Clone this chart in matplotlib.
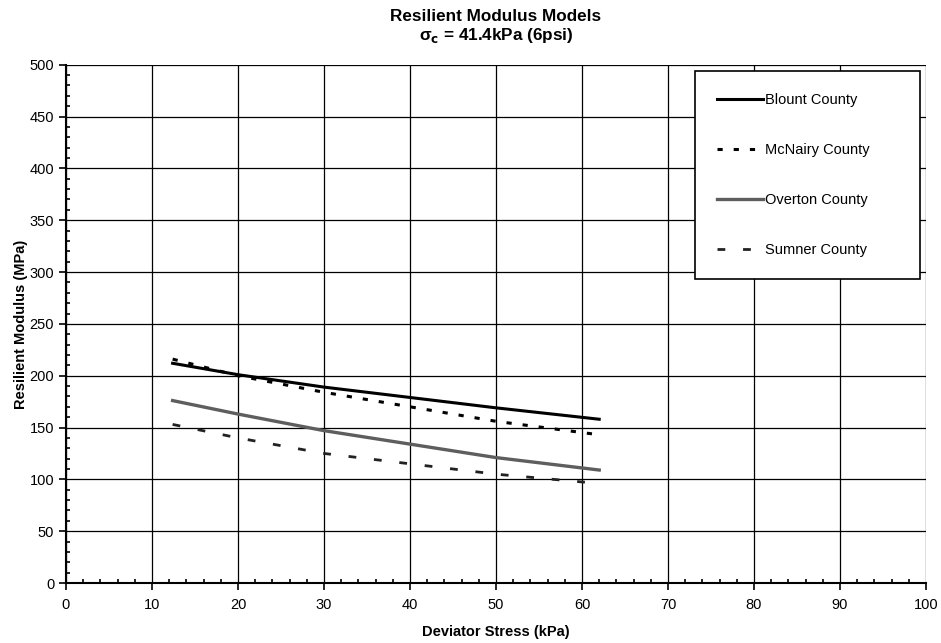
import matplotlib
matplotlib.use('Agg')
import matplotlib.pyplot as plt
from matplotlib.ticker import MultipleLocator

plt.rcParams['font.family'] = ['Liberation Sans', 'DejaVu Sans']

# deviator stress (kPa)
stress = [12.4, 20, 30, 40, 50, 62]

# resilient modulus (MPa)
blount = [212, 201, 189, 179, 169, 158]
mcnairy = [216, 200, 184, 170, 156, 143]
overton = [176, 163, 147, 134, 121, 109]
sumner = [153, 140, 125, 115, 105, 96]

fig = plt.figure(figsize=(9.41, 6.43), dpi=100)
ax = fig.add_axes([0.0701, 0.0933, 0.914, 0.806])

ax.plot(stress, blount, color='black', lw=2.2, label='Blount County')
ax.plot(stress, mcnairy, color='black', lw=2.2, ls=(0, (1.7, 3.6)), label='McNairy County')
ax.plot(stress, overton, color='#5e5e5e', lw=2.4, label='Overton County')
ax.plot(stress, sumner, color='#222222', lw=2.0, ls=(0, (2.8, 6.4)), label='Sumner County')

ax.set_xlim(0, 100)
ax.set_ylim(0, 500)
ax.xaxis.set_major_locator(MultipleLocator(10))
ax.xaxis.set_minor_locator(MultipleLocator(2))
ax.yaxis.set_major_locator(MultipleLocator(50))
ax.yaxis.set_minor_locator(MultipleLocator(10))
ax.tick_params(which='major', direction='out', length=5, width=1.2, labelsize=10.5, colors='black')
ax.tick_params(axis='x', which='major', pad=6)
ax.tick_params(which='minor', direction='in', length=3, width=1.2)

ax.grid(True, which='major', color='black', lw=0.9)
ax.set_axisbelow(True)
for s in ['top', 'right']:
    ax.spines[s].set_visible(False)
for s in ['left', 'bottom']:
    ax.spines[s].set_linewidth(1.5)

ax.set_xlabel('Deviator Stress (kPa)', fontsize=10.5, fontweight='bold', labelpad=9)
ax.set_ylabel('Resilient Modulus (MPa)', fontsize=10.5, fontweight='bold', labelpad=1)
ax.set_title('Resilient Modulus Models\nσ$_\\mathbf{c}$ = 41.4kPa (6psi)', fontsize=12.3,
             fontweight='bold', pad=18, linespacing=1.15)

leg = ax.legend(loc='upper left', bbox_to_anchor=(0.731, 0.589, 0.262, 0.399), mode='expand',
                fontsize=10.5, frameon=True, fancybox=False, framealpha=1, edgecolor='black',
                handlelength=3.2, handletextpad=0.1, labelspacing=2.47, borderpad=1.5,
                borderaxespad=0)
leg.get_frame().set_linewidth(1.2)

fig.savefig('out.png', dpi=100)
